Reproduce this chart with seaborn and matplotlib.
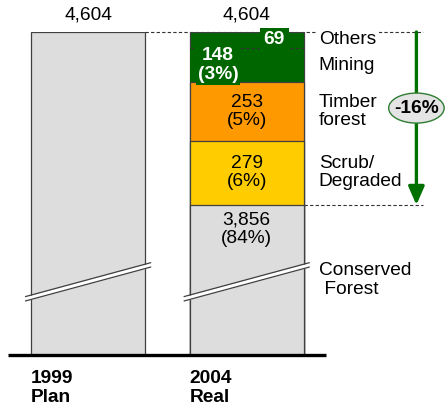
import numpy as np
import pandas as pd
import matplotlib
matplotlib.use("Agg")
import matplotlib.pyplot as plt
from matplotlib.patches import Ellipse
import seaborn as sns

sns.set_style("white")
plt.rcParams['font.family'] = ['Liberation Sans', 'DejaVu Sans']
plt.rcParams['font.size'] = 13.8
plt.rcParams['text.color'] = 'black'

# data
years = ['1999\nPlan', '2004\nReal']
totals = [4604, 4604]
layers = ['Conserved\n Forest', 'Scrub/\nDegraded', 'Timber\nforest', 'Mining', 'Others']
real_2004 = [3856, 279, 253, 148, 69]
shares = ['84%', '6%', '5%', '3%', '']
change_label = '-16%'

# broken axis: the conserved block is drawn shortened
conserved_shown = 650
cut = real_2004[0] - conserved_shown

gray = '#dddddd'
green = '#006600'
layer_colors = [gray, '#ffcc00', '#ff9900', green, green]
edge = '#404040'
bw = 0.72

shown = np.array([conserved_shown] + real_2004[1:])
tops = np.cumsum(shown)
bottoms = tops - shown
mids = (tops + bottoms) / 2
plan_top = totals[0] - cut

fig = plt.figure(figsize=(4.48, 4.12), dpi=100)
ax = fig.add_axes([8 / 448, 57 / 412, 318 / 448, 323 / 412])

# 1999 plan bar
sns.barplot(x=[years[0]], y=[plan_top], order=years, color=gray, width=bw,
            saturation=1, edgecolor=edge, linewidth=0.9, errorbar=None, ax=ax)

# 2004 real bar, drawn as overlapping cumulative bars (tallest first)
for i in range(len(layers) - 1, -1, -1):
    lw = 0 if layers[i] == 'Mining' else 0.9
    sns.barplot(x=[years[1]], y=[tops[i]], order=years, color=layer_colors[i],
                width=bw, saturation=1, edgecolor=edge, linewidth=lw,
                errorbar=None, ax=ax)

ax.set_xlim(-0.505, 1.50)
ax.set_ylim(0, max(tops[-1], plan_top))
ax.set_axis_off()

# baseline
ax.plot([-0.505, 1.50], [0, 0], color='black', lw=2.4, clip_on=False,
        solid_capstyle='butt', zorder=5)

# break marks on both bars
brk_lo, brk_hi, brk_t = 0.36 * conserved_shown, 0.586 * conserved_shown, 19
for xc in [0, 1]:
    xs = np.array([xc - bw / 2 - 0.035, xc + bw / 2 + 0.035])
    ylo = np.array([brk_lo, brk_hi])
    ax.fill_between(xs, ylo, ylo + brk_t, color='white', zorder=4, lw=0)
    ax.plot(xs, ylo, color=edge, lw=0.9, zorder=4)
    ax.plot(xs, ylo + brk_t, color=edge, lw=0.9, zorder=4)

# dashed guide lines
dash = dict(color='#333333', lw=0.8, linestyle=(0, (3, 2)), clip_on=False)
ax.plot([bw / 2, 2.11], [plan_top, plan_top], zorder=0.5, **dash)
ax.plot([1 + bw / 2, 2.11], [conserved_shown, conserved_shown], zorder=0.5, **dash)
ax.plot([1 - bw / 2, 1 + bw / 2], [tops[3], tops[3]], zorder=2, **dash)

# totals above bars
for i, t in enumerate(totals):
    ax.annotate(f'{t:,}', (i, max(tops[-1], plan_top)), xytext=(0, 6),
                textcoords='offset points', ha='center', va='bottom',
                annotation_clip=False)

# year labels
for i, y in enumerate(years):
    ax.annotate(y, (i - bw / 2, 0), xytext=(0, -11), textcoords='offset points',
                ha='left', va='top', fontweight='bold', linespacing=1.1,
                annotation_clip=False)

# values inside the 2004 bar
ax.annotate(f'{real_2004[0]:,}\n({shares[0]})', (1, conserved_shown),
            xytext=(0, -5), textcoords='offset points', ha='center', va='top',
            linespacing=1.1, zorder=6)
for i in [1, 2]:
    ax.text(1, mids[i], f'{real_2004[i]}\n({shares[i]})', ha='center',
            va='center', linespacing=1.1, zorder=6)
ax.text(0.82, mids[3], f'{real_2004[3]}\n({shares[3]})', ha='center',
        va='center', color='white', fontweight='bold', linespacing=1.1,
        zorder=6, bbox=dict(boxstyle='square,pad=0.1', fc=green, ec='none'))
ax.text(1.174, mids[4], f'{real_2004[4]}', ha='center', va='center',
        color='white', fontweight='bold', zorder=6,
        bbox=dict(boxstyle='square,pad=0.2', fc=green, ec='none'))

# layer names to the right
for i, name in enumerate(layers):
    y = mids[i]
    kw = {}
    if name == 'Others':
        kw['bbox'] = dict(boxstyle='square,pad=0.15', fc='white', ec='none')
    ax.text(1 + bw / 2 + 0.095, y, name, ha='left', va='center',
            linespacing=1.1, clip_on=False, zorder=6, **kw)

# change arrow
arrow_x = 2.07
ax.annotate('', xy=(arrow_x, conserved_shown), xytext=(arrow_x, tops[-1]),
            arrowprops=dict(arrowstyle='-|>,head_length=0.8,head_width=0.35',
                            color='#007000', lw=2.4, shrinkA=0, shrinkB=0),
            annotation_clip=False)
badge_y = (conserved_shown + tops[-1]) / 2 + 45
ax.add_patch(Ellipse((arrow_x, badge_y), 0.35, 130, fc='#e4e4e4', ec='#2e7d32',
                     lw=1, clip_on=False, zorder=6))
ax.text(arrow_x, badge_y, change_label, ha='center', va='center',
        fontweight='bold', clip_on=False, zorder=7)

fig.savefig('out.png', dpi=100)
